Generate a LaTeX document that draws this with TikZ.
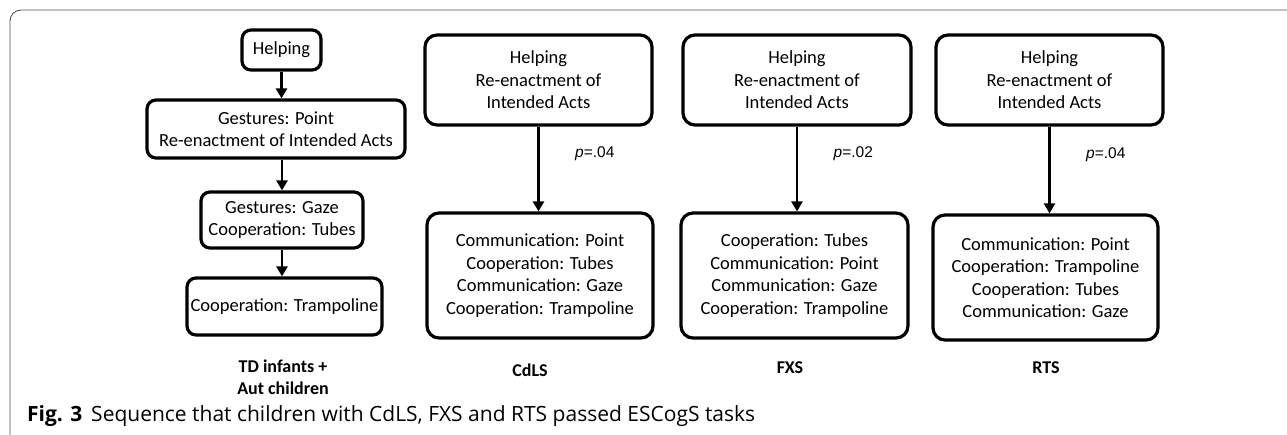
\documentclass[tikz,border=0pt]{standalone}
\usepackage{fontspec}
\setmainfont{Carlito}
\newfontfamily\capfont{Open Sans}
\newfontfamily\pfont{Liberation Sans}
\usepackage{tikz}
\usetikzlibrary{arrows.meta}
\definecolor{frame}{HTML}{555555}

\begin{document}
\begin{tikzpicture}[x=1pt, y=-1pt,
    box/.style={draw, line width=3.2pt, rounded corners=12pt, align=center,
      inner sep=0pt, font=\fontsize{18.5}{22.5}\selectfont},
    smallbox/.style={box, rounded corners=9pt},
    flow/.style={-{Triangle[length=10pt, width=11pt]}, line width=2.8pt},
    grp/.style={align=center, font=\fontsize{18}{22}\selectfont\bfseries},
    pval/.style={font=\pfont\fontsize{15.5}{18}\selectfont}]
% page and frame
\useasboundingbox (0,0) rectangle (1287,434);
\fill[white] (0,0) rectangle (1287,434);
\draw[frame, line width=0.9pt, rounded corners=11pt] (10,440) -- (10,10) -- (1295,10);

% TD infants + Aut children
\node[smallbox, minimum width=79, minimum height=40] (help0) at (281.5,50) {Helping};
\node[smallbox, minimum width=258, minimum height=58] (gpoint) at (276,129)
  {Gestures: Point\\Re-enactment of Intended Acts};
\node[smallbox, minimum width=162, minimum height=56] (ggaze) at (282,220)
  {Gestures: Gaze\\Cooperation: Tubes};
\node[smallbox, minimum width=195, minimum height=57] (gtramp) at (284.5,306.5)
  {Cooperation: Trampoline};
\draw[flow] (help0.south) -- (help0.south |- gpoint.north);
\draw[flow] (ggaze.north |- gpoint.south) -- (ggaze.north);
\draw[flow] (ggaze.south) -- (ggaze.south |- gtramp.north);
\node[grp] (tdaut) at (283,377) {TD infants +\\Aut children};

% CdLS
\node[box, minimum width=227, minimum height=90] (cdtop) at (538.5,80)
  {Helping\\Re-enactment of\\Intended Acts};
\node[box, minimum width=226, minimum height=125] (cdbot) at (540,275.5)
  {Communication: Point\\Cooperation: Tubes\\Communication: Gaze\\Cooperation: Trampoline};
\draw[flow] (cdtop.south) -- node[pval, pos=0.32, right=32pt]{\textit{p}=.04} (cdtop.south |- cdbot.north);
\node[grp] (cdls) at (530,370) {CdLS};

% FXS
\node[box, minimum width=228, minimum height=90] (fxtop) at (797,80)
  {Helping\\Re-enactment of\\Intended Acts};
\node[box, minimum width=227, minimum height=125] (fxbot) at (794.5,275.5)
  {Cooperation: Tubes\\Communication: Point\\Communication: Gaze\\Cooperation: Trampoline};
\draw[flow] (fxtop.south) -- node[pval, pos=0.32, right=32pt]{\textit{p}=.02} (fxtop.south |- fxbot.north);
\node[grp] (fxs) at (790,368) {FXS};

% RTS
\node[box, minimum width=227, minimum height=90] (rttop) at (1049.5,80)
  {Helping\\Re-enactment of\\Intended Acts};
\node[box, minimum width=225, minimum height=125] (rtbot) at (1045.5,277.5)
  {Communication: Point\\Cooperation: Trampoline\\Cooperation: Tubes\\Communication: Gaze};
\draw[flow] (rttop.south) -- node[pval, pos=0.32, right=32pt]{\textit{p}=.04} (rttop.south |- rtbot.north);
\node[grp] (rts) at (1046,368) {RTS};

% caption
\node[anchor=base west, inner sep=0pt, font=\capfont\fontsize{21}{22}\selectfont] (capt) at (27,421)
  {\textbf{Fig. 3}\hspace{9pt}Sequence that children with CdLS, FXS and RTS passed ESCogS tasks};
\end{tikzpicture}
\end{document}
